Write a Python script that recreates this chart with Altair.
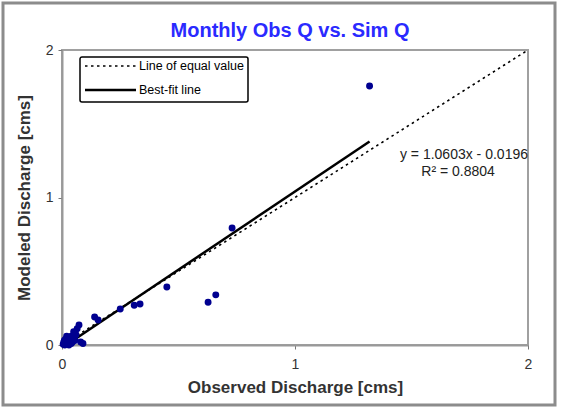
import altair as alt
import pandas as pd

# Observed vs simulated monthly discharge (cms)
obs = [1.32, 0.73, 0.45, 0.627, 0.66, 0.25, 0.31, 0.335, 0.14, 0.155, 0.073, 0.05,
       0.09, 0.06, 0.04, 0.03, 0.02, 0.01, 0.005, 0.015, 0.025, 0.035, 0.045, 0.055,
       0.065, 0.08, 0.02, 0.01, 0.03, 0.04, 0.008, 0.012]
sim = [1.756, 0.793, 0.393, 0.29, 0.34, 0.244, 0.27, 0.278, 0.19, 0.17, 0.135, 0.09,
       0.01, 0.07, 0.06, 0.03, 0.02, 0.01, 0.005, 0.04, 0.015, 0.05, 0.02, 0.03,
       0.11, 0.02, 0.06, 0.03, 0.0, 0.01, 0.02, 0.0]

slope = 1.0603
intercept = -0.0196
fit_x = [0.02, 1.32]
equal_x = [0.0, 2.0]
series_names = ["Line of equal value", "Best-fit line"]
eq_text = ["y = 1.0603x - 0.0196", "R\u00b2 = 0.8804"]
title_text = "Monthly Obs Q vs. Sim Q"

pts = pd.DataFrame({"obs": obs, "sim": sim})
equal_df = pd.DataFrame({"x": equal_x, "y": equal_x})
fit_df = pd.DataFrame({"x": fit_x, "y": [slope * v + intercept for v in fit_x]})
ann = pd.DataFrame({"x": [2.0, 1.70], "y": [1.29, 1.17], "t": eq_text})

W, H = 466, 295
xs = alt.Scale(domain=[0, 2], nice=False)
ys = alt.Scale(domain=[0, 2], nice=False)
xa = alt.Axis(tickCount=2, title="Observed Discharge [cms]", format=".0f",
              labelOverlap=False, labelFlush=False)
ya = alt.Axis(tickCount=2, title="Modeled Discharge [cms]", format=".0f",
              labelOverlap=False, labelFlush=False)
one = pd.DataFrame({"k": [0]})
FONT = "Liberation Sans"

frame = alt.Chart(one).mark_rect(fill=None, stroke="#8c8c8c", strokeWidth=3).encode(
    x=alt.value(-59), x2=alt.value(493), y=alt.value(-47), y2=alt.value(355))

title = alt.Chart(one).mark_text(
    text=title_text, fontSize=20, font=FONT, fontWeight="bold",
    color="#2a2aff", align="center", baseline="middle").encode(
    x=alt.value(228), y=alt.value(-19))

equal_line = alt.Chart(equal_df).mark_line(color="#000000", strokeWidth=1.6, strokeDash=[2.5, 3.5]).encode(
    x=alt.X("x:Q", scale=xs, axis=xa), y=alt.Y("y:Q", scale=ys, axis=ya))
fit_line = alt.Chart(fit_df).mark_line(color="#000000", strokeWidth=2.5).encode(
    x=alt.X("x:Q", scale=xs, axis=xa), y=alt.Y("y:Q", scale=ys, axis=ya))

points = alt.Chart(pts).mark_circle(size=48, color="#000090", opacity=1).encode(
    x=alt.X("obs:Q", scale=xs, axis=xa), y=alt.Y("sim:Q", scale=ys, axis=ya))

text1 = alt.Chart(ann.iloc[[0]]).mark_text(fontSize=14, font=FONT,
                                            color="#222222", align="right").encode(
    x=alt.X("x:Q", scale=xs, axis=xa), y=alt.Y("y:Q", scale=ys, axis=ya), text="t:N")
text2 = alt.Chart(ann.iloc[[1]]).mark_text(fontSize=14, font=FONT,
                                            color="#222222", align="center").encode(
    x=alt.X("x:Q", scale=xs, axis=xa), y=alt.Y("y:Q", scale=ys, axis=ya), text="t:N")

# legend box (drawn as decoration)
leg_box = alt.Chart(one).mark_rect(fill="white", stroke="#000000", strokeWidth=1.5,
                                   cornerRadius=2).encode(
    x=alt.value(18), x2=alt.value(186), y=alt.value(7), y2=alt.value(52))
leg_sym1 = alt.Chart(one).mark_rule(color="#000000", strokeWidth=1.6, strokeDash=[2.5, 3.5]).encode(
    x=alt.value(23), x2=alt.value(74), y=alt.value(16))
leg_sym2 = alt.Chart(one).mark_rule(color="#000000", strokeWidth=2.5).encode(
    x=alt.value(23), x2=alt.value(74), y=alt.value(40))
leg_txt1 = alt.Chart(one).mark_text(text=series_names[0], fontSize=12.5, font=FONT,
                                    color="#000000", align="left", baseline="middle").encode(
    x=alt.value(77), y=alt.value(16))
leg_txt2 = alt.Chart(one).mark_text(text=series_names[1], fontSize=12.5, font=FONT,
                                    color="#000000", align="left", baseline="middle").encode(
    x=alt.value(77), y=alt.value(40))

chart = alt.layer(frame, title, equal_line, fit_line, points, text1, text2,
                  leg_box, leg_sym1, leg_sym2, leg_txt1, leg_txt2).properties(
    width=W, height=H,
    autosize=alt.AutoSizeParams(type="none"),
    padding={"left": 62, "top": 50, "right": 35, "bottom": 68},
).configure_view(
    stroke="#a0a0a0", strokeWidth=2
).configure_axis(
    grid=False, domainColor="#999999", domainWidth=2, tickColor="#777777", tickSize=4,
    labelFont=FONT, labelFontSize=14, labelColor="#333333",
    titleFont=FONT, titleFontSize=17, titleFontWeight="bold", titleColor="#333333",
).configure_axisX(titlePadding=8, labelPadding=8).configure_axisY(titlePadding=12, labelPadding=5)

chart.save("out.html", embed_options={"renderer": "svg", "actions": False})
